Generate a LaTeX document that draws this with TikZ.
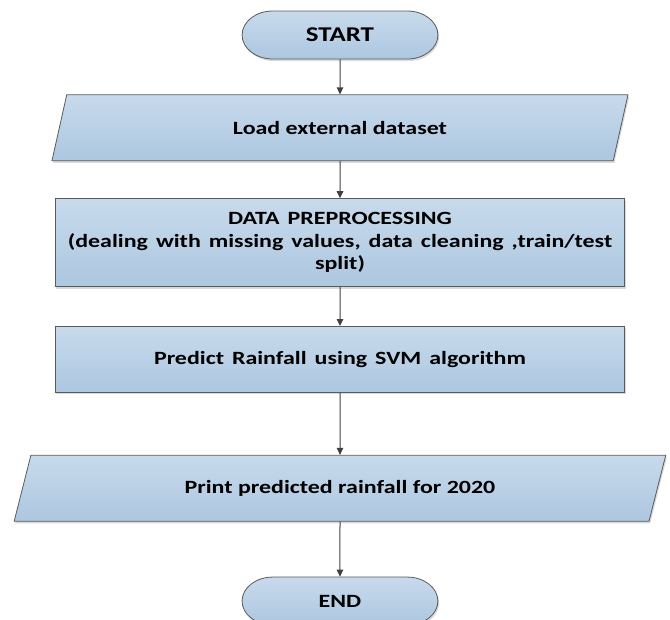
\documentclass[tikz,border=0pt]{standalone}
\usepackage{fontspec}
\setmainfont{Carlito}
\usetikzlibrary{positioning}
\usetikzlibrary{arrows.meta, shapes.geometric, shapes.misc, shadows}

\definecolor{boxtop}{RGB}{200,218,236}
\definecolor{boxbottom}{RGB}{172,199,224}
\definecolor{boxline}{RGB}{90,90,90}
\definecolor{flowline}{RGB}{64,64,64}

\begin{document}
\begin{tikzpicture}[x=1pt, y=1pt, xscale=1.28, transform shape]

\tikzset{flow box/.style={
		draw=boxline, line width=0.8pt,
		top color=boxtop, bottom color=boxbottom,
		drop shadow={shadow xshift=1.2pt, shadow yshift=-2pt, fill=black, opacity=0.15},
		font=\bfseries\fontsize{18.7}{22.5}\selectfont,
		align=center, inner sep=4pt
	},
	terminal/.style={flow box, rounded rectangle,
		minimum width=161pt, minimum height=48pt},
	io box/.style={flow box, trapezium,
		trapezium left angle=61.5, trapezium right angle=118.5,
		trapezium stretches body=true,
		minimum width=#1, minimum height=66pt},
	io box/.default=450pt,
	process box/.style={flow box, rectangle,
		minimum width=445pt, minimum height=#1, text width=436pt},
	process box/.default=66pt,
	flow/.style={-{Triangle[length=7pt, width=6.5pt]}, draw=flowline, line width=1pt}
}

\useasboundingbox (-265.6,-619) rectangle (257.8,0);

% flowchart nodes, top to bottom
\node[terminal, font=\bfseries\fontsize{21}{25}\selectfont] (start) at (0,-35) {START};
\node[io box, below=35pt of start] (load) {Load external dataset};
\node[process box=88pt, below=37pt of load] (prep) {DATA PREPROCESSING\\
	(dealing with missing values, data cleaning ,train/test\\ split)};
\node[process box, below=39pt of prep] (svm) {Predict Rainfall using SVM algorithm};
\node[io box=509pt, below=62pt of svm] (print) {Print predicted rainfall for 2020};
\node[terminal, below=55pt of print] (end) {END};

% connectors
\draw[flow] (start) -- (load);
\draw[flow] (load) -- (prep);
\draw[flow] (prep) -- (svm);
\draw[flow] (svm) -- (print);
\draw[flow] (print) -- (end);

\end{tikzpicture}
\end{document}
